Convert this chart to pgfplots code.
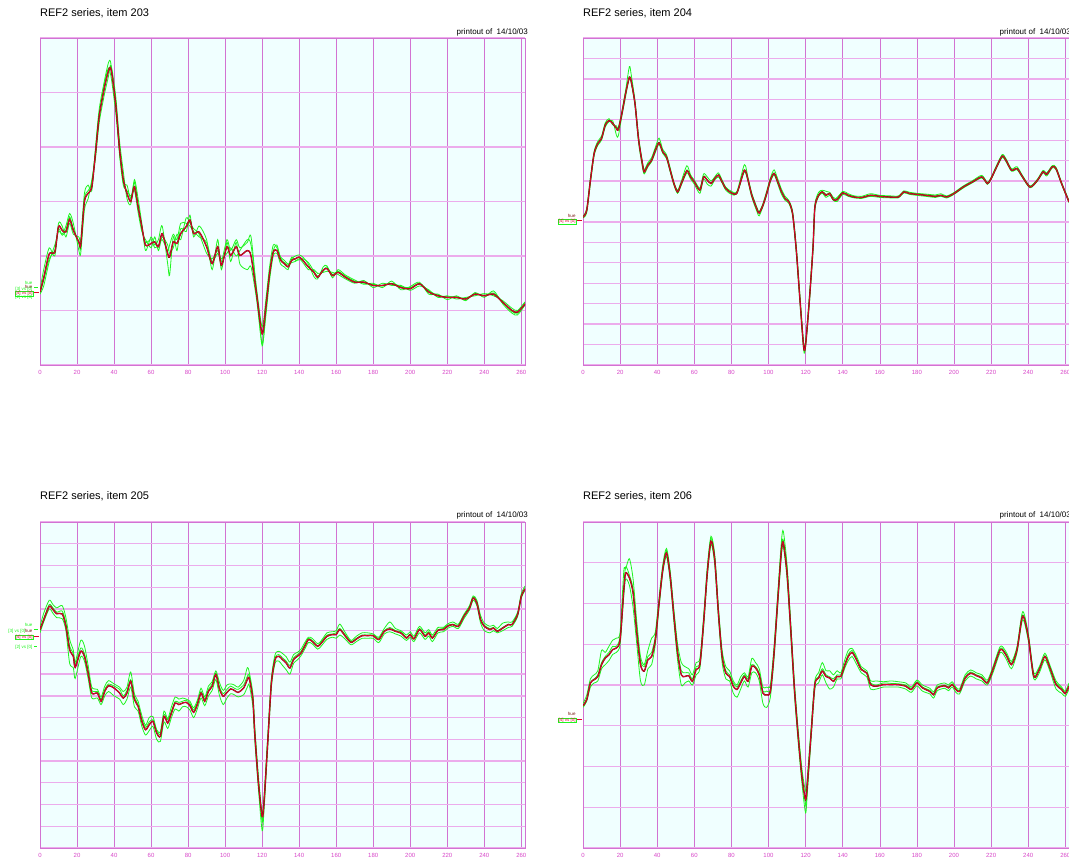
\documentclass[border=0pt]{standalone}
\usepackage{pgfplots}
\usepackage{pgfplotstable}
\pgfplotsset{compat=1.18}
\usepackage{fontspec}
\setmainfont{Liberation Sans}

\definecolor{bgc}{RGB}{240,255,255}
\definecolor{gridv}{RGB}{210,115,210}
\definecolor{gridh}{RGB}{236,172,236}
\definecolor{tickc}{RGB}{215,70,200}
\definecolor{grn}{RGB}{30,245,30}
\definecolor{redl}{RGB}{225,0,45}
\definecolor{darkl}{RGB}{120,20,15}

\pgfplotstableread{
x r g1 g2 g3
0 1.34 1.30 1.38 1.32
2 1.60 1.45 1.75 1.55
5 2.04 1.90 2.15 1.95
8 2.07 2.20 2.00 2.10
10 2.54 2.45 2.60 2.50
12 2.47 2.40 2.55 2.38
14 2.44 2.55 2.35 2.48
16 2.67 2.78 2.60 2.72
18 2.47 2.60 2.40 2.50
21 2.26 2.10 2.35 2.22
22 2.20 2.05 2.30 2.15
24 3.00 2.85 3.15 3.05
26 3.15 3.05 3.30 3.20
28 3.27 3.40 3.20 3.35
30 3.89 3.80 4.00 3.95
32 4.57 4.45 4.70 4.60
35 5.12 5.00 5.25 5.20
37 5.40 5.30 5.55 5.45
38 5.46 5.50 5.58 5.35
39 5.30 5.40 5.35 5.15
41 4.75 4.90 4.80 4.60
43 3.95 4.10 3.85 3.90
45 3.40 3.55 3.30 3.35
47 3.15 3.05 3.20 3.30
49 3.00 2.95 3.10 3.05
51 3.27 3.40 3.20 3.35
53 2.90 3.05 2.80 2.95
55 2.54 2.60 2.45 2.50
57 2.20 2.10 2.30 2.25
60 2.23 2.35 2.15 2.30
62 2.26 2.20 2.35 2.15
64 2.17 2.30 2.10 2.20
66 2.41 2.55 2.35 2.30
69 2.04 1.85 2.20 2.10
70 1.98 1.65 2.05 2.20
72 2.26 2.35 2.15 2.40
74 2.23 2.10 2.40 2.30
76 2.41 2.50 2.30 2.60
79 2.54 2.45 2.70 2.60
81 2.66 2.75 2.60 2.55
83 2.41 2.35 2.50 2.45
86 2.44 2.55 2.40 2.35
90 2.17 2.30 2.05 2.25
93 1.86 1.75 1.95 1.90
96 2.17 2.30 2.10 2.05
98 1.83 1.75 1.95 1.90
101 2.17 2.25 2.05 2.30
103 2.01 1.90 2.15 2.10
106 2.17 2.25 2.00 2.30
108 2.01 1.85 2.10 2.15
112 2.10 1.75 2.30 2.25
114 2.00 1.80 2.20 2.35
117 1.30 1.20 1.40 1.35
120 0.57 0.40 0.70 0.35
122 1.06 0.90 1.20 1.00
124 1.67 1.55 1.80 1.70
126 2.07 2.00 2.20 2.10
128 2.10 2.05 2.15 2.20
130 1.92 1.85 1.98 1.95
132 1.86 1.80 1.92 1.88
134 1.80 1.75 1.85 1.83
136 1.92 1.95 1.88 1.98
138 1.95 2.00 1.90 1.92
140 1.98 2.02 1.95 1.93
142 1.92 1.98 1.88 1.95
145 1.80 1.85 1.75 1.88
148 1.70 1.62 1.75 1.72
150 1.61 1.58 1.68 1.63
153 1.74 1.80 1.70 1.72
155 1.77 1.82 1.72 1.80
158 1.64 1.60 1.70 1.66
161 1.70 1.75 1.66 1.72
165 1.61 1.65 1.58 1.63
170 1.52 1.56 1.50 1.54
175 1.52 1.48 1.55 1.50
180 1.46 1.50 1.42 1.48
185 1.46 1.42 1.50 1.45
190 1.49 1.54 1.46 1.50
195 1.42 1.38 1.46 1.44
200 1.40 1.44 1.37 1.42
205 1.49 1.52 1.45 1.50
210 1.34 1.30 1.38 1.36
215 1.27 1.30 1.24 1.28
220 1.24 1.20 1.27 1.25
225 1.24 1.27 1.21 1.25
230 1.21 1.18 1.24 1.22
235 1.30 1.33 1.27 1.31
240 1.27 1.24 1.31 1.28
245 1.30 1.36 1.27 1.32
250 1.15 1.12 1.18 1.16
255 1.00 0.95 1.04 0.98
258 0.97 0.92 1.00 0.95
262 1.12 1.10 1.16 1.14
}\Pone

\pgfplotstableread{
x r g1 g2 g3
0 7.24 7.20 7.28 7.22
2 7.57 7.45 7.65 7.55
4 9.04 8.90 9.15 9.05
6 10.35 10.25 10.45 10.30
8 10.84 10.75 10.95 10.85
10 11.09 11.00 11.20 11.10
12 11.74 11.65 11.85 11.78
14 11.96 11.90 12.05 11.98
16 11.82 11.95 11.75 11.85
18 11.58 11.25 11.70 11.60
19 11.50 11.20 11.60 11.55
21 12.32 12.20 12.45 12.35
23 13.30 13.15 13.45 13.35
25 14.08 14.10 14.60 14.00
26 13.87 13.80 14.20 13.90
28 12.81 12.70 12.95 12.85
30 11.00 10.85 11.15 11.05
32 9.86 9.70 9.95 9.90
33 9.45 9.35 9.55 9.50
35 9.78 9.70 9.90 9.85
37 10.02 9.95 10.15 10.05
39 10.51 10.40 10.65 10.55
41 10.87 10.80 11.10 10.90
43 10.43 10.35 10.55 10.45
45 10.19 10.10 10.30 10.20
47 9.53 9.45 9.65 9.55
49 8.88 8.80 8.95 8.90
51 8.47 8.40 8.55 8.50
53 8.88 8.80 9.00 8.90
56 9.50 9.40 9.75 9.55
58 9.20 9.10 9.30 9.20
60 8.96 8.85 9.05 8.95
63 8.55 8.40 8.65 8.60
65 9.20 9.10 9.35 9.25
67 9.04 8.85 9.20 9.05
69 8.88 8.75 9.00 8.90
71 9.12 9.05 9.20 9.15
73 9.29 9.20 9.40 9.30
75 8.96 8.90 9.05 9.00
77 8.63 8.55 8.70 8.65
80 8.42 8.35 8.50 8.45
83 8.42 8.38 8.50 8.45
87 9.53 9.45 9.80 9.55
89 9.04 8.95 9.15 9.05
91 8.30 8.20 8.40 8.35
94 7.57 7.45 7.65 7.60
95 7.44 7.30 7.50 7.45
97 7.81 7.75 7.90 7.85
99 8.39 8.30 8.50 8.40
101 9.04 8.95 9.15 9.10
103 9.37 9.30 9.55 9.40
105 8.96 8.85 9.10 9.00
107 8.47 8.35 8.60 8.50
109 8.14 8.05 8.25 8.15
111 7.98 7.90 8.05 8.00
113 7.40 7.30 7.50 7.45
115 5.60 5.45 5.75 5.65
117 3.14 3.00 3.30 3.20
119 0.85 0.70 1.00 0.90
120 1.00 0.90 1.20 1.05
122 3.14 3.00 3.30 3.20
124 5.76 5.60 5.90 5.80
125 7.73 7.60 7.85 7.75
127 8.30 8.25 8.45 8.35
129 8.47 8.40 8.55 8.50
131 8.30 8.20 8.50 8.35
133 8.39 8.30 8.45 8.40
135 8.09 8.05 8.20 8.10
137 8.09 8.00 8.15 8.20
140 8.42 8.35 8.50 8.45
143 8.30 8.25 8.38 8.32
146 8.22 8.18 8.28 8.25
150 8.19 8.15 8.25 8.20
155 8.30 8.25 8.38 8.32
160 8.25 8.20 8.30 8.27
165 8.22 8.18 8.28 8.24
170 8.22 8.18 8.27 8.24
173 8.47 8.42 8.52 8.48
176 8.39 8.35 8.45 8.40
180 8.35 8.30 8.40 8.37
185 8.30 8.25 8.36 8.32
190 8.25 8.20 8.32 8.27
193 8.30 8.26 8.38 8.31
196 8.22 8.17 8.27 8.24
200 8.39 8.35 8.44 8.40
205 8.71 8.66 8.76 8.72
210 8.96 8.92 9.02 8.98
215 9.20 9.15 9.28 9.22
218 8.88 8.84 8.94 8.90
220 9.12 9.08 9.18 9.14
223 9.70 9.65 9.78 9.72
226 10.22 10.15 10.30 10.24
228 10.02 9.95 10.10 10.04
231 9.53 9.48 9.60 9.55
234 9.61 9.55 9.70 9.62
237 9.20 9.15 9.26 9.22
241 8.71 8.67 8.76 8.72
245 9.04 9.00 9.10 9.06
248 9.45 9.40 9.52 9.46
250 9.33 9.25 9.40 9.35
253 9.70 9.65 9.76 9.72
255 9.61 9.55 9.68 9.63
258 8.88 8.84 8.94 8.90
262 7.98 7.94 8.04 8.00
}\Ptwo

\pgfplotstableread{
x r g1 g2 g3
0 10.05 9.90 10.20 10.00
2 10.50 10.40 10.80 10.55
5 11.12 11.00 11.40 11.20
7 10.97 10.80 11.20 11.05
9 10.78 10.60 11.05 10.85
12 10.77 10.55 11.15 10.90
14 10.20 10.00 10.60 10.35
16 9.13 8.50 9.60 9.30
18 8.82 8.30 9.10 8.95
19 8.31 7.80 8.55 8.45
22 9.05 8.80 9.55 9.20
24 8.82 8.60 9.30 8.95
26 8.05 7.80 8.40 8.15
28 7.13 6.90 7.40 7.25
31 7.13 6.90 7.30 7.20
33 6.75 6.60 6.95 6.85
35 7.21 7.00 7.45 7.30
37 7.47 7.20 7.70 7.55
40 7.36 7.00 7.55 7.45
43 7.13 6.85 7.40 7.30
45 6.90 6.60 7.20 7.00
47 7.13 6.85 7.40 7.25
49 7.67 7.40 8.10 7.75
51 6.83 6.50 7.10 6.95
53 6.52 6.30 6.75 6.60
55 5.83 5.60 6.10 5.95
57 5.44 5.20 5.65 5.55
59 5.67 5.40 6.00 5.80
61 5.83 5.60 6.05 5.90
63 5.29 5.00 5.45 5.40
65 5.14 4.90 5.35 5.25
67 6.06 5.80 6.30 6.15
69 5.75 5.50 5.95 5.90
71 6.21 6.00 6.50 6.30
73 6.67 6.40 6.95 6.75
75 6.60 6.30 6.85 6.70
77 6.67 6.50 6.90 6.75
79 6.70 6.50 6.85 6.80
81 6.55 6.35 6.75 6.65
83 6.24 6.00 6.45 6.35
85 6.60 6.40 6.80 6.70
87 7.13 6.90 7.35 7.20
89 6.75 6.55 6.95 6.85
91 7.21 7.00 7.45 7.30
93 7.44 7.25 7.65 7.55
95 7.98 7.75 8.15 8.05
97 7.29 7.00 7.60 7.40
99 6.98 6.60 7.25 7.10
101 7.16 6.90 7.50 7.30
103 7.32 7.10 7.55 7.45
105 7.25 7.05 7.50 7.35
107 7.16 6.95 7.40 7.30
110 7.36 7.05 7.70 7.50
112 7.75 7.40 8.30 7.90
113 7.82 7.50 8.10 7.95
115 6.83 6.50 7.10 6.95
116 5.29 5.00 5.60 5.40
118 2.99 2.70 3.30 3.10
120 1.46 0.80 1.60 1.20
121 2.07 1.70 2.30 2.20
123 4.83 4.60 5.10 4.95
125 7.59 7.40 7.80 7.70
127 8.67 8.50 8.90 8.75
129 8.82 8.60 9.05 8.90
131 8.67 8.40 8.95 8.75
133 8.51 8.20 8.80 8.60
135 8.28 8.00 8.55 8.40
137 8.67 8.50 8.90 8.75
139 8.82 8.65 9.00 8.90
141 8.97 8.85 9.15 9.05
143 9.28 9.15 9.45 9.35
145 9.59 9.45 9.70 9.65
147 9.51 9.40 9.65 9.55
150 9.28 9.15 9.40 9.30
152 9.43 9.30 9.55 9.50
155 9.74 9.60 9.90 9.80
158 9.82 9.70 9.95 9.85
160 9.82 9.65 10.00 9.90
162 10.05 9.80 10.30 10.10
165 9.74 9.60 9.90 9.80
168 9.46 9.35 9.55 9.50
171 9.62 9.50 9.75 9.65
174 9.77 9.65 9.90 9.80
177 9.77 9.65 9.90 9.80
180 9.77 9.65 9.85 9.80
183 9.59 9.45 9.70 9.65
186 9.97 9.85 10.10 10.00
189 10.08 9.95 10.40 10.15
192 9.97 9.85 10.10 10.00
195 9.89 9.75 10.00 9.95
198 9.66 9.55 9.80 9.70
200 9.82 9.70 9.95 9.85
202 9.62 9.50 9.75 9.65
205 10.05 9.90 10.20 10.10
208 9.74 9.60 9.90 9.80
210 9.89 9.75 10.05 9.95
212 9.66 9.50 9.80 9.70
215 10.02 9.90 10.15 10.05
218 10.05 9.95 10.15 10.10
220 10.20 10.10 10.30 10.25
223 10.28 10.20 10.40 10.30
226 10.20 10.10 10.30 10.25
229 10.66 10.55 10.75 10.70
232 11.04 10.95 11.15 11.10
234 11.50 11.40 11.60 11.55
236 11.27 11.15 11.40 11.30
238 10.50 10.35 10.70 10.55
240 10.20 10.00 10.35 10.25
243 10.05 9.90 10.20 10.10
245 10.12 10.00 10.25 10.15
247 9.97 9.90 10.10 10.00
250 10.12 10.00 10.35 10.15
253 10.28 10.15 10.40 10.30
255 10.28 10.20 10.40 10.30
258 10.74 10.65 10.85 10.80
260 11.58 11.50 11.70 11.60
262 11.92 11.85 12.05 11.95
}\Pthree

\pgfplotstableread{
x r g1 g2 g3
0 3.49 3.45 3.55 3.50
2 3.64 3.60 3.75 3.65
4 4.05 3.95 4.15 4.05
6 4.13 4.05 4.25 4.15
8 4.21 4.10 4.35 4.25
10 4.50 4.40 4.85 4.55
12 4.66 4.50 4.80 4.70
14 4.74 4.60 4.95 4.80
16 4.87 4.75 5.10 4.95
18 4.91 4.80 5.15 4.95
20 5.11 5.00 5.30 5.20
22 6.34 6.20 6.80 6.40
23 6.75 6.60 6.85 6.90
25 6.63 6.45 7.10 6.70
27 6.26 5.90 6.60 6.35
29 5.28 5.00 5.55 5.40
31 4.50 4.10 4.70 4.60
33 4.34 4.00 4.50 4.45
35 4.62 4.40 4.85 4.70
37 4.70 4.50 5.15 4.80
39 5.11 5.00 5.30 5.20
41 6.01 5.90 6.15 6.05
43 6.83 6.75 6.95 6.85
45 7.24 7.15 7.35 7.30
47 6.67 6.55 6.80 6.70
49 5.69 5.55 5.85 5.75
51 4.79 4.60 5.00 4.85
53 4.25 4.00 4.55 4.35
55 4.21 4.05 4.45 4.30
57 4.23 4.10 4.40 4.30
59 4.09 4.00 4.25 4.15
61 4.38 4.25 4.55 4.45
63 4.50 4.40 4.65 4.55
65 5.52 5.40 5.65 5.60
67 6.75 6.65 6.90 6.80
69 7.53 7.45 7.65 7.60
71 7.08 6.95 7.20 7.15
73 5.77 5.65 5.90 5.85
75 4.70 4.55 4.85 4.75
77 4.29 4.15 4.45 4.35
79 4.21 4.10 4.35 4.25
81 3.97 3.80 4.10 4.05
83 3.89 3.70 4.00 3.95
85 4.05 3.90 4.20 4.10
87 4.21 4.10 4.30 4.25
89 4.09 3.95 4.20 4.15
91 4.46 4.30 4.65 4.50
93 4.42 4.30 4.55 4.45
95 4.25 4.10 4.40 4.30
97 3.80 3.55 3.95 3.85
99 3.76 3.45 3.95 3.85
101 3.84 3.70 4.00 3.90
103 4.79 4.65 4.95 4.85
105 6.09 5.95 6.25 6.15
107 7.32 7.20 7.55 7.40
108 7.48 7.40 7.77 7.55
110 6.75 6.60 6.95 6.85
112 5.36 5.20 5.50 5.45
114 3.89 3.75 4.05 3.95
116 2.74 2.60 2.90 2.80
118 1.76 1.60 1.95 1.85
120 1.19 0.86 1.40 1.05
121 1.60 1.40 1.80 1.50
123 2.82 2.70 2.95 2.90
125 4.01 3.90 4.10 4.05
127 4.17 4.05 4.30 4.20
129 4.34 4.25 4.55 4.40
131 4.21 4.05 4.35 4.25
133 4.17 3.90 4.35 4.20
135 4.09 3.95 4.25 4.15
137 4.21 4.15 4.35 4.25
139 4.21 4.15 4.30 4.25
141 4.47 4.40 4.60 4.50
143 4.70 4.60 4.85 4.75
145 4.80 4.70 4.90 4.85
147 4.66 4.55 4.75 4.70
150 4.38 4.30 4.45 4.40
153 4.29 4.20 4.35 4.30
155 4.01 3.90 4.10 4.05
158 3.97 3.90 4.10 4.00
162 4.01 3.95 4.08 4.05
166 4.01 3.95 4.10 4.04
170 4.01 3.95 4.08 4.03
174 3.97 3.90 4.05 4.00
177 3.89 3.82 3.95 3.92
180 4.05 3.98 4.12 4.08
183 3.93 3.85 4.00 3.95
187 3.84 3.78 3.92 3.87
189 3.76 3.68 3.83 3.78
191 3.93 3.86 4.00 3.95
195 3.98 3.92 4.05 4.00
197 3.93 3.86 4.00 3.95
199 4.01 3.95 4.08 4.03
201 3.89 3.82 3.95 3.92
203 3.84 3.78 3.90 3.86
206 4.17 4.10 4.25 4.20
209 4.29 4.22 4.37 4.32
212 4.23 4.15 4.30 4.25
215 4.17 4.10 4.25 4.20
218 4.05 4.00 4.12 4.07
221 4.38 4.30 4.45 4.40
225 4.87 4.80 4.95 4.90
228 4.74 4.65 4.82 4.77
231 4.50 4.40 4.58 4.53
234 4.87 4.80 4.95 4.90
237 5.69 5.60 5.80 5.72
240 5.19 5.10 5.28 5.22
243 4.21 4.15 4.30 4.25
246 4.38 4.30 4.45 4.40
249 4.70 4.62 4.78 4.72
252 4.38 4.30 4.45 4.40
255 4.01 3.90 4.10 4.05
258 3.89 3.80 3.95 3.92
260 3.79 3.72 3.85 3.82
262 3.97 3.90 4.05 4.00
}\Pfour

\pgfplotsset{
  panel/.style={
    scale only axis, width=485pt, height=327pt,
    xmin=0, xmax=262, ymin=0,
    xtick={0,20,...,260}, ytick distance=1, yticklabels={},
    grid=major, major tick length=0pt,
    axis background/.style={fill=bgc},
    axis line style={draw=gridv, line width=0.6pt},
    x grid style={draw=gridv, line width=0.6pt},
    y grid style={draw=gridh, line width=1.3pt},
    xticklabel style={font=\fontsize{6}{6}\selectfont, text=tickc, yshift=-1.5pt},
    /pgf/number format/assume math mode=true,
    /pgf/number format/1000 sep={},
  },
  gl/.style={grn, line width=0.8pt, smooth, tension=0.45},
  dl/.style={darkl, line width=1.4pt, smooth, tension=0.45},
  rl/.style={redl, line width=0.75pt, smooth, tension=0.45},
}
\newcommand{\titlefont}{\fontsize{11}{13}\selectfont}
\newcommand{\prfont}{\fontsize{8}{9}\selectfont}
\newcommand{\lgfont}{\fontsize{4.5}{5}\selectfont}

\begin{document}
\begin{tikzpicture}
\path[use as bounding box] (0pt,0pt) rectangle (1069pt,863pt);

% ---------- Panel 1 ----------
\begin{axis}[panel, at={(40pt,498pt)}, anchor=south west, ymax=6]
\addplot[gl] table[x=x,y=g1]{\Pone};
\addplot[gl] table[x=x,y=g2]{\Pone};
\addplot[gl] table[x=x,y=g3]{\Pone};
\addplot[dl] table[x=x,y=r]{\Pone};
\addplot[rl] table[x=x,y=r]{\Pone};
\end{axis}
\node[anchor=base west, font=\titlefont, inner sep=0pt] at (40pt,846.5pt) {REF2 series, item 203};
\node[anchor=base west, font=\prfont, inner sep=0pt] at (456.5pt,828pt) {printout of~~14/10/03};
\begin{scope}[font=\lgfont, inner sep=0.3pt]
\node[anchor=east, text=grn] at (33pt,580.3pt) {hue};
\node[anchor=east, text=darkl] at (33pt,576.3pt) {hue};
\node[anchor=east, text=grn] at (33pt,573.2pt) {[3] vs [0]};
\node[anchor=east, text=redl, draw=grn, line width=0.2pt, fill=bgc!40!white] at (33pt,569.7pt) {[4] vs [0]};
\node[anchor=east, text=grn] at (33pt,565.8pt) {[2] vs [0]};
\draw[redl, line width=0.5pt] (34pt,570.5pt) -- (39pt,570.5pt);
\draw[grn, line width=0.4pt] (34pt,576pt) -- (38pt,576pt);
\end{scope}

% ---------- Panel 2 ----------
\begin{axis}[panel, at={(583pt,498pt)}, anchor=south west, width=486pt, ymax=16]
\addplot[gl] table[x=x,y=g1]{\Ptwo};
\addplot[gl] table[x=x,y=g2]{\Ptwo};
\addplot[gl] table[x=x,y=g3]{\Ptwo};
\addplot[dl] table[x=x,y=r]{\Ptwo};
\addplot[rl] table[x=x,y=r]{\Ptwo};
\end{axis}
\node[anchor=base west, font=\titlefont, inner sep=0pt] at (583pt,846.5pt) {REF2 series, item 204};
\node[anchor=base west, font=\prfont, inner sep=0pt] at (999.5pt,828pt) {printout of~~14/10/03};
\begin{scope}[font=\lgfont, inner sep=0.3pt]
\node[anchor=east, text=darkl] at (576pt,647pt) {hue};
\node[anchor=east, text=redl, draw=grn, line width=0.2pt] at (576pt,641.5pt) {[4] vs [0]};
\draw[redl, line width=0.5pt] (577pt,642.5pt) -- (582pt,642.5pt);
\end{scope}

% ---------- Panel 3 ----------
\begin{axis}[panel, at={(40pt,15pt)}, anchor=south west, height=326pt, ymax=15]
\addplot[gl] table[x=x,y=g1]{\Pthree};
\addplot[gl] table[x=x,y=g2]{\Pthree};
\addplot[gl] table[x=x,y=g3]{\Pthree};
\addplot[dl] table[x=x,y=r]{\Pthree};
\addplot[rl] table[x=x,y=r]{\Pthree};
\end{axis}
\node[anchor=base west, font=\titlefont, inner sep=0pt] at (40pt,363pt) {REF2 series, item 205};
\node[anchor=base west, font=\prfont, inner sep=0pt] at (456.5pt,345pt) {printout of~~14/10/03};
\begin{scope}[font=\lgfont, inner sep=0.3pt]
\node[anchor=east, text=grn] at (33pt,238pt) {hue};
\node[anchor=east, text=grn] at (26pt,232pt) {[3] vs [0]};
\node[anchor=east, text=darkl] at (33pt,232.5pt) {hue};
\node[anchor=east, text=redl, draw=grn, line width=0.2pt, fill=bgc!40!white] at (33pt,226pt) {[4] vs [0]};
\node[anchor=east, text=grn] at (33pt,216pt) {[2] vs [0]};
\draw[redl, line width=0.5pt] (34pt,227pt) -- (39pt,227pt);
\draw[grn, line width=0.4pt] (34pt,234pt) -- (38pt,234pt);
\draw[grn, line width=0.4pt] (34pt,217pt) -- (37pt,217pt);
\end{scope}

% ---------- Panel 4 ----------
\begin{axis}[panel, at={(583pt,15pt)}, anchor=south west, width=486pt, height=326pt, ymax=8]
\addplot[gl] table[x=x,y=g1]{\Pfour};
\addplot[gl] table[x=x,y=g2]{\Pfour};
\addplot[gl] table[x=x,y=g3]{\Pfour};
\addplot[dl] table[x=x,y=r]{\Pfour};
\addplot[rl] table[x=x,y=r]{\Pfour};
\end{axis}
\node[anchor=base west, font=\titlefont, inner sep=0pt] at (583pt,363pt) {REF2 series, item 206};
\node[anchor=base west, font=\prfont, inner sep=0pt] at (999.5pt,345pt) {printout of~~14/10/03};
\begin{scope}[font=\lgfont, inner sep=0.3pt]
\node[anchor=east, text=darkl] at (576pt,149pt) {hue};
\node[anchor=east, text=redl, draw=grn, line width=0.2pt] at (576pt,143pt) {[4] vs [0]};
\draw[redl, line width=0.5pt] (577pt,144pt) -- (582pt,144pt);
\end{scope}
\end{tikzpicture}
\end{document}
